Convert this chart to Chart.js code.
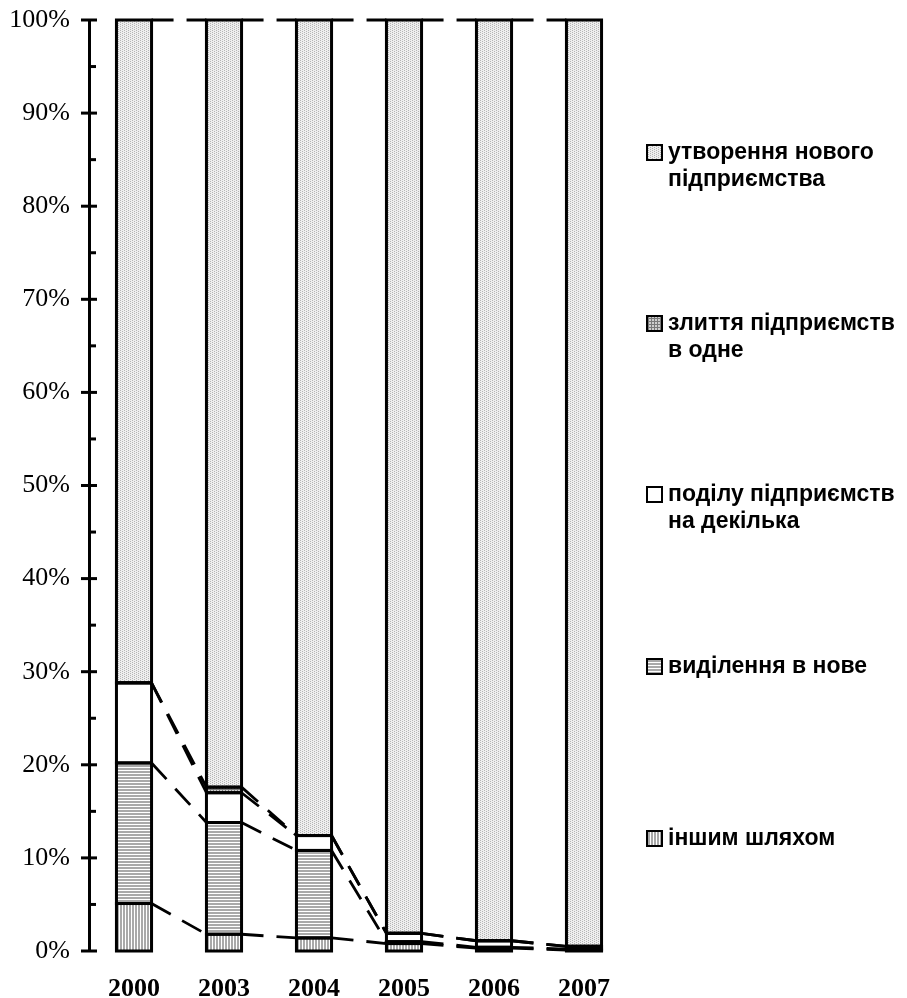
<!DOCTYPE html>
<html>
<head>
<meta charset="utf-8">
<script src="https://cdn.jsdelivr.net/npm/chart.js@4.4.1/dist/chart.umd.min.js"></script>
<style>
  html, body { margin: 0; padding: 0; background: #fff; }
  #wrap { width: 907px; height: 998px; }
</style>
</head>
<body>
<div id="wrap"><canvas id="chart" width="907" height="998"></canvas></div>
<script>
// values in %, stacked from the bottom up
const years = ['2000', '2003', '2004', '2005', '2006', '2007'];
const otherWay = [5.1, 1.8, 1.4, 0.8, 0.3, 0.1];
const spinOff = [15.1, 12.0, 9.4, 0.2, 0.1, 0.1];
const division = [8.6, 3.2, 1.6, 0.9, 0.7, 0.3];
const merger = [0.0, 0.6, 0.0, 0.0, 0.0, 0.0];
const newEnterprise = [71.2, 82.4, 87.6, 98.1, 98.9, 99.5];
const yTicks = [0, 10, 20, 30, 40, 50, 60, 70, 80, 90, 100];

const labelOther = ['іншим шляхом'];
const labelSpinOff = ['виділення в нове'];
const labelDivision = ['поділу підприємств', 'на декілька'];
const labelMerger = ['злиття підприємств', 'в одне'];
const labelNew = ['утворення нового', 'підприємства'];

function makePattern(kind) {
    const c = document.createElement('canvas');
    const g = c.getContext('2d');
    if (kind === 'dots') {
        c.width = 4; c.height = 4;
        g.fillStyle = '#eeeeee'; g.fillRect(0, 0, 4, 4);
        g.fillStyle = '#b4b4b4';
        g.fillRect(0, 0, 1, 1); g.fillRect(2, 1, 1, 1); g.fillRect(0, 2, 1, 1); g.fillRect(2, 3, 1, 1);
    } else if (kind === 'grid') {
        c.width = 3; c.height = 3;
        g.fillStyle = '#7a7a7a'; g.fillRect(0, 0, 3, 3);
        g.fillStyle = '#cfcfcf'; g.fillRect(1, 1, 2, 2);
    } else if (kind === 'hstripes') {
        c.width = 3; c.height = 3;
        g.fillStyle = '#ffffff'; g.fillRect(0, 0, 3, 3);
        g.fillStyle = '#a9a9a9'; g.fillRect(0, 0, 3, 2);
    } else if (kind === 'vstripes') {
        c.width = 3; c.height = 3;
        g.fillStyle = '#ffffff'; g.fillRect(0, 0, 3, 3);
        g.fillStyle = '#a9a9a9'; g.fillRect(0, 0, 2, 3);
    } else {
        c.width = 2; c.height = 2;
        g.fillStyle = '#ffffff'; g.fillRect(0, 0, 2, 2);
    }
    return g.createPattern(c, 'repeat');
}

// outlines of every segment + dashed series lines between bars
const barLines = {
    id: 'barLines',
    afterDatasetsDraw(chart) {
        const ctx = chart.ctx;
        ctx.save();
        ctx.strokeStyle = '#000';
        ctx.lineWidth = 3;
        chart.data.datasets.forEach((ds, di) => {
            const bars = chart.getDatasetMeta(di).data;
            bars.forEach(b => {
                const top = Math.min(b.y, b.base), bottom = Math.max(b.y, b.base);
                ctx.strokeRect(b.x - b.width / 2, top, b.width, bottom - top);
            });
        });
        ctx.setLineDash([22, 13]);
        ctx.lineWidth = 2.8;
        chart.data.datasets.forEach((ds, di) => {
            const bars = chart.getDatasetMeta(di).data;
            for (let i = 0; i < bars.length - 1; i++) {
                const a = bars[i], b = bars[i + 1];
                ctx.beginPath();
                ctx.moveTo(a.x + a.width / 2, a.y);
                ctx.lineTo(b.x - b.width / 2, b.y);
                ctx.stroke();
            }
        });
        ctx.restore();
    }
};

// tick marks on the value axis: long ones across the axis, short ones inside
const yMarks = {
    id: 'yMarks',
    afterDraw(chart) {
        const ctx = chart.ctx;
        const y = chart.scales.y;
        const ax = chart.chartArea.left;
        ctx.save();
        ctx.strokeStyle = '#000';
        ctx.lineWidth = 3;
        for (let v = 0; v <= 100; v += 5) {
            const py = y.getPixelForValue(v);
            ctx.beginPath();
            if (v % 10 === 0) { ctx.moveTo(ax - 8, py); ctx.lineTo(ax + 8, py); }
            else { ctx.moveTo(ax, py); ctx.lineTo(ax + 7, py); }
            ctx.stroke();
        }
        ctx.restore();
    }
};

const legendRight = {
    id: 'legendRight',
    afterDraw(chart) {
        const ctx = chart.ctx;
        const order = [4, 3, 2, 1, 0];
        const centers = [153, 324, 495, 667, 839];
        ctx.save();
        ctx.font = 'bold 23px "Liberation Sans", Arial, sans-serif';
        ctx.textBaseline = 'middle';
        ctx.fillStyle = '#000';
        order.forEach((di, k) => {
            const ds = chart.data.datasets[di];
            const cy = centers[k];
            ctx.fillStyle = ds.backgroundColor;
            ctx.fillRect(647, cy - 8, 15, 15);
            ctx.strokeStyle = '#000';
            ctx.lineWidth = 2;
            ctx.strokeRect(647, cy - 8, 15, 15);
            ctx.fillStyle = '#000';
            ds.legendText.forEach((line, j) => ctx.fillText(line, 668, cy + j * 27));
        });
        ctx.restore();
    }
};

new Chart(document.getElementById('chart'), {
    type: 'bar',
    data: {
        labels: years,
        datasets: [
            { label: labelOther.join(' '), legendText: labelOther, data: otherWay, backgroundColor: makePattern('vstripes') },
            { label: labelSpinOff.join(' '), legendText: labelSpinOff, data: spinOff, backgroundColor: makePattern('hstripes') },
            { label: labelDivision.join(' '), legendText: labelDivision, data: division, backgroundColor: makePattern('white') },
            { label: labelMerger.join(' '), legendText: labelMerger, data: merger, backgroundColor: makePattern('grid') },
            { label: labelNew.join(' '), legendText: labelNew, data: newEnterprise, backgroundColor: makePattern('dots') }
        ]
    },
    options: {
        responsive: false,
        animation: false,
        devicePixelRatio: 1,
        layout: { padding: { top: 20, right: 278, left: 0, bottom: 0 } },
        datasets: { bar: { borderWidth: 0, categoryPercentage: 1, barPercentage: 0.39 } },
        plugins: { legend: { display: false }, tooltip: { enabled: false } },
        scales: {
            x: {
                stacked: true,
                grid: { display: false, drawTicks: false },
                border: { display: false },
                ticks: { color: '#000', padding: 23, font: { family: '"Liberation Serif", "Times New Roman", serif', size: 26, weight: 'bold' } },
                afterFit(s) { s.height = 47; s.paddingLeft = 0; s.paddingRight = 0; }
            },
            y: {
                stacked: true,
                min: 0,
                max: 100,
                afterBuildTicks(s) { s.ticks = yTicks.map(v => ({ value: v })); },
                grid: { display: false, drawTicks: false },
                border: { display: true, color: '#000', width: 3 },
                ticks: {
                    color: '#000',
                    padding: 19,
                    font: { family: '"Liberation Serif", "Times New Roman", serif', size: 26 },
                    callback: v => v + '%'
                },
                afterFit(s) { s.width = 89; s.paddingTop = 0; s.paddingBottom = 0; }
            }
        }
    },
    plugins: [barLines, yMarks, legendRight]
});
</script>
</body>
</html>
